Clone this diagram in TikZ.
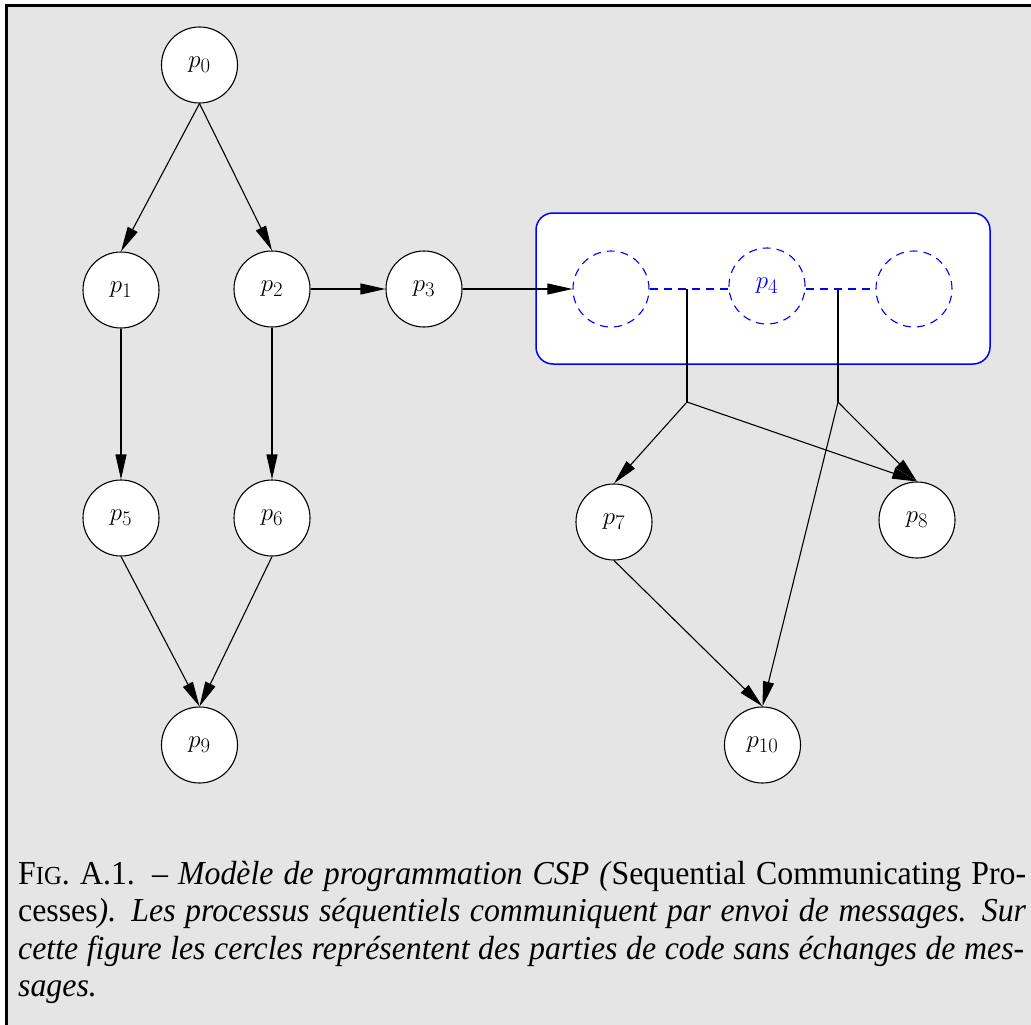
\documentclass[tikz,border=0pt]{standalone}
\usepackage{fontspec}
\newfontfamily\capfont[FakeStretch=0.95]{Liberation Serif}
\usetikzlibrary{arrows.meta}
\definecolor{bggray}{RGB}{229,229,229}
\begin{document}
\begin{tikzpicture}[x=1pt,y=-1pt,
  proc/.style={circle,draw,fill=white,line width=1.1pt,minimum size=76pt,inner sep=0pt,font=\fontsize{30}{34}\selectfont},
  ghost/.style={circle,draw=blue,dash pattern=on 8pt off 6pt,fill=white,line width=1.1pt,minimum size=76pt,inner sep=0pt,text=blue,font=\fontsize{30}{34}\selectfont},
  arr/.style={-{Triangle[length=25pt,width=11pt]},line width=1.1pt},
  lnk/.style={line width=1.1pt},
  blink/.style={blue,line width=1.1pt,dash pattern=on 8pt off 6pt},
  capline/.style={anchor=base west,inner sep=0pt,font=\capfont\fontsize{33.5}{38}\selectfont}]
\useasboundingbox (0,0) rectangle (1031,1025);
\fill[white] (0,0) rectangle (1031,1025);
\fill[bggray] (6,6) rectangle (1031,1025);
\draw[line width=3pt] (6,1025) -- (6,6) -- (1031,6);

% group box
\node[draw=blue,fill=white,line width=1.5pt,rounded corners=17pt,minimum width=454pt,minimum height=151pt,inner sep=0pt] (grp) at (763,288.5) {};

% nodes
\node[proc] (p0) at (199.5,65) {$p_0$};
\node[proc] (p1) at (121,290) {$p_1$};
\node[proc] (p2) at (272,289) {$p_2$};
\node[proc] (p3) at (424,289) {$p_3$};
\node[ghost] (c1) at (611,289) {};
\node[ghost] (p4) at (767,286) {$p_4$};
\node[ghost] (c3) at (914,289) {};
\node[proc] (p5) at (121,518) {$p_5$};
\node[proc] (p6) at (272,518) {$p_6$};
\node[proc] (p7) at (614,522) {$p_7$};
\node[proc] (p8) at (917,520) {$p_8$};
\node[proc] (p9) at (199.5,745) {$p_9$};
\node[proc] (p10) at (762.5,745) {$p_{10}$};

\coordinate (ta) at (687,289);
\coordinate (tb) at (838,289);
\coordinate (j1) at (687,402);
\coordinate (j2) at (838,402);

% connectors
\draw[arr] (p0.south) -- (p1.north);
\draw[arr] (p0.south) -- (p2.north);
\draw[arr] (p1.south) -- (p5.north);
\draw[arr] (p2.south) -- (p6.north);
\draw[arr] (p5.south) -- (p9.north);
\draw[arr] (p6.south) -- (p9.north);
\draw[arr] (p2.east) -- (p3.west);
\draw[arr] (p3.east) -- (c1.west);
\draw[blink] (c1.east) -- (p4.west |- c1.east);
\draw[blink] (p4.east |- c3.west) -- (c3.west);
\draw[lnk] (ta) -- (j1);
\draw[lnk] (tb) -- (j2);
\draw[arr] (j1) -- (p7.north);
\draw[arr] (j1) -- (p8.north);
\draw[arr] (j2) -- (p8.north);
\draw[arr] (j2) -- (p10.north);
\draw[arr] (p7.south) -- (p10.north);

% caption
\node[capline] (l1) at (18,884) {\makebox[1008pt][s]{F{\fontsize{26}{30}\selectfont IG}. A.1. –\ \textit{Modèle de programmation CSP (}Sequential Communicating Pro-}};
\node[capline] (l2) at (18,921.5) {\makebox[1008pt][s]{cesses\textit{). Les processus séquentiels communiquent par envoi de messages. Sur}}};
\node[capline] (l3) at (18,959) {\makebox[1006pt][s]{\textit{cette figure les cercles représentent des parties de code sans échanges de mes-}}};
\node[capline] (l4) at (18,996.5) {\textit{sages.}};
\end{tikzpicture}
\end{document}
